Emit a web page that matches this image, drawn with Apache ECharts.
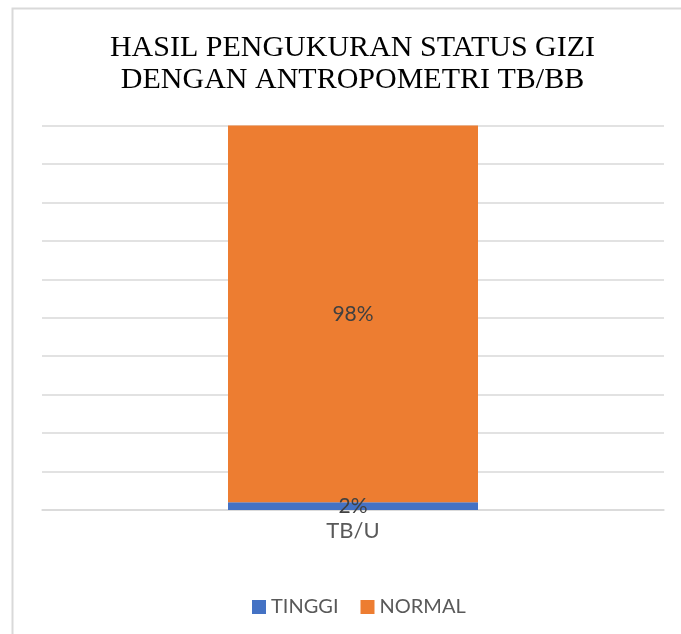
<!DOCTYPE html>
<html>
<head>
<meta charset="utf-8">
<script src="https://cdn.jsdelivr.net/npm/echarts@6/dist/echarts.min.js"></script>
<style>
  html, body { margin: 0; padding: 0; background: #fff; }
  #main { width: 681px; height: 634px; }
</style>
</head>
<body>
<div id="main"></div>
<script>
// data
const categories = ['TB/U'];
const seriesNames = ['TINGGI', 'NORMAL'];
const tinggi = [2];
const normal = [98];
const yTicks = [0, 10, 20, 30, 40, 50, 60, 70, 80, 90, 100];

const chart = echarts.init(document.getElementById('main'));

const labelStyle = {
    show: true,
    position: 'inside',
    formatter: '{c}%',
    color: '#404040',
    fontFamily: 'Lato',
    fontSize: 21
};

const option = {
    backgroundColor: '#fff',
    animation: false,
    // frame + title
    graphic: [
        {
            type: 'rect',
            shape: { x: 12.5, y: 8.5, width: 720, height: 700 },
            style: { fill: 'none', stroke: '#d9d9d9', lineWidth: 2 },
            silent: true
        },
        {
            type: 'text',
            x: 352.5,
            y: 32,
            style: {
                text: 'HASIL PENGUKURAN STATUS GIZI\nDENGAN ANTROPOMETRI TB/BB',
                fill: '#000',
                font: '30px "Liberation Serif"',
                textAlign: 'center',
                lineHeight: 32
            }
        }
    ],
    grid: {
        left: 42,
        right: 17,
        top: 125.5,
        bottom: 124
    },
    legend: {
        data: seriesNames,
        left: 247,
        top: 592,
        itemWidth: 14,
        itemHeight: 14,
        itemGap: 22,
        icon: 'rect',
        textStyle: {
            color: '#595959',
            fontFamily: 'Lato',
            fontSize: 20,
            padding: [0, 0, 0, 0]
        }
    },
    xAxis: {
        type: 'category',
        data: categories,
        axisLine: { show: true, lineStyle: { color: '#d9d9d9', width: 1.5 } },
        axisTick: { show: false },
        axisLabel: {
            color: '#595959',
            fontFamily: 'Lato',
            fontSize: 22,
            margin: 10
        }
    },
    yAxis: {
        type: 'value',
        min: yTicks[0],
        max: yTicks[yTicks.length - 1],
        interval: 10,
        axisLine: { show: false },
        axisTick: { show: false },
        axisLabel: { show: false },
        splitLine: { lineStyle: { color: '#d9d9d9', width: 1.5 } }
    },
    series: [
        {
            name: seriesNames[0],
            type: 'bar',
            stack: 'total',
            data: tinggi,
            barWidth: 250,
            itemStyle: { color: '#4472C4' },
            label: labelStyle
        },
        {
            name: seriesNames[1],
            type: 'bar',
            stack: 'total',
            data: normal,
            barWidth: 250,
            itemStyle: { color: '#ED7D31' },
            label: labelStyle
        }
    ]
};

chart.setOption(option);
</script>
</body>
</html>
